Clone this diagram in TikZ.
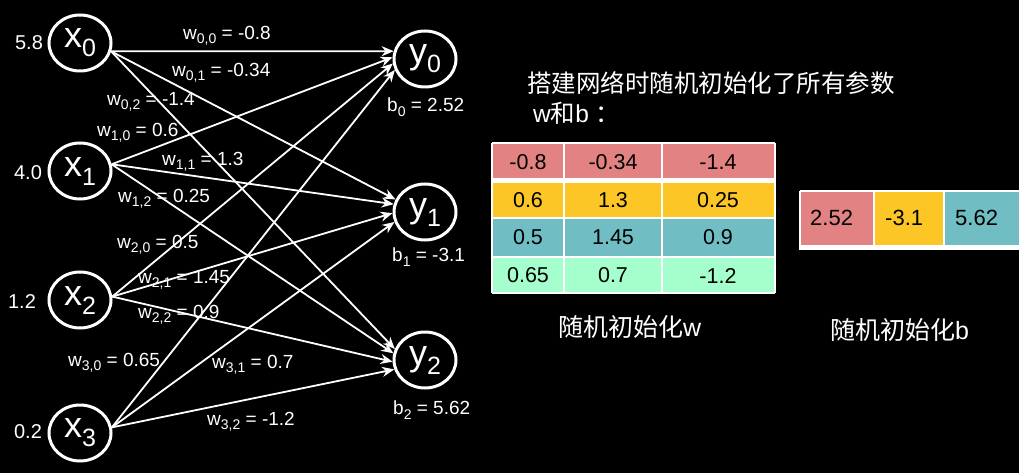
\documentclass[tikz,border=0pt]{standalone}
\usepackage{fontspec}
\setmainfont{Liberation Sans}
\newfontfamily\cjk{Noto Sans CJK SC}
\usetikzlibrary{arrows.meta,shapes.geometric}
\newcommand{\fs}[1]{\fontsize{#1}{#1}\selectfont}
\newcommand{\ntxt}[2]{#1\raisebox{-9pt}{\fs{25}#2}}
\newcommand{\wlab}[2]{w\raisebox{-4pt}{\fs{14}#1} = #2}
\newcommand{\blab}[2]{b\raisebox{-5pt}{\fs{14}#1} = #2}
\definecolor{cpink}{RGB}{226,130,130}
\definecolor{cyel}{RGB}{251,198,38}
\definecolor{cteal}{RGB}{112,190,196}
\definecolor{cmint}{RGB}{165,255,205}
\begin{document}
\begin{tikzpicture}[x=1pt,y=-1pt,
  neuron/.style={ellipse,draw=white,line width=3pt,minimum width=62pt,minimum height=56pt,inner sep=0pt,text=white,font=\fs{36}},
  inlab/.style={text=white,font=\fs{20},inner sep=0pt},
  wl/.style={text=white,font=\fs{19},inner sep=0pt,anchor=west},
  wedge/.style={draw=white,line width=1.8pt,-{Stealth[length=12pt,width=10pt]}},
  numtxt/.style={text=black,font=\fs{21.5},inner sep=0pt},
  bnumtxt/.style={text=black,font=\fs{22},inner sep=0pt,anchor=west},
  gridline/.style={draw=white,line width=1.5pt},
  captxt/.style={text=white,font=\fs{25}\cjk,inner sep=0pt,anchor=west}
]
\fill[black] (0,0) rectangle (1019,473);
\useasboundingbox (0,0) rectangle (1019,473);

% neurons
\node[neuron] (x0) at (80,43) {\ntxt{x}{0}};
\node[neuron] (x1) at (80,171) {\ntxt{x}{1}};
\node[neuron] (x2) at (80,300) {\ntxt{x}{2}};
\node[neuron] (x3) at (80,433) {\ntxt{x}{3}};
\node[neuron] (y0) at (425,59) {\ntxt{y}{0}};
\node[neuron] (y1) at (425,212) {\ntxt{y}{1}};
\node[neuron] (y2) at (425,360) {\ntxt{y}{2}};

% inputs
\node[inlab] (i0) at (29,43) {5.8};
\node[inlab] (i1) at (28,173) {4.0};
\node[inlab] (i2) at (22,302) {1.2};
\node[inlab] (i3) at (28,432) {0.2};

% edges
\draw[wedge] (x0.-15) -- (y0.166);
\draw[wedge] (x0.-15) -- (y1.157);
\draw[wedge] (x0.-15) -- (y2.160);
\draw[wedge] (x1.12) -- (y0.177);
\draw[wedge] (x1.12) -- (y1.166);
\draw[wedge] (x1.12) -- (y2.168);
\draw[wedge] (x2.6) -- (y0.188);
\draw[wedge] (x2.6) -- (y1.182);
\draw[wedge] (x2.6) -- (y2.183);
\draw[wedge] (x3.10) -- (y0.200);
\draw[wedge] (x3.10) -- (y1.198);
\draw[wedge] (x3.10) -- (y2.197);

% weight labels
\node[wl] (w00) at (183,36) {\wlab{0,0}{-0.8}};
\node[wl] (w01) at (172,73) {\wlab{0,1}{-0.34}};
\node[wl] (w02) at (107,102) {\wlab{0,2}{-1.4}};
\node[wl] (w10) at (97,133) {\wlab{1,0}{0.6}};
\node[wl] (w11) at (162,162) {\wlab{1,1}{1.3}};
\node[wl] (w12) at (118,199) {\wlab{1,2}{0.25}};
\node[wl] (w20) at (117,245) {\wlab{2,0}{0.5}};
\node[wl] (w21) at (138,280) {\wlab{2,1}{1.45}};
\node[wl] (w22) at (138,315) {\wlab{2,2}{0.9}};
\node[wl] (w30) at (68,363) {\wlab{3,0}{0.65}};
\node[wl] (w31) at (212,365) {\wlab{3,1}{0.7}};
\node[wl] (w32) at (207,422) {\wlab{3,2}{-1.2}};

% bias labels
\node[wl] (b0) at (387,107) {\blab{0}{2.52}};
\node[wl] (b1) at (392,257) {\blab{1}{-3.1}};
\node[wl] (b2) at (393,410) {\blab{2}{5.62}};

% title
\node[text=white,font=\fs{24.5}\cjk,inner sep=0pt,anchor=west] (t1) at (527,83) {搭建网络时随机初始化了所有参数};
\node[text=white,font=\fs{24.5},inner sep=0pt,anchor=west] (t2) at (533,113) {w{\cjk 和}b {\cjk ：}};

% W table
\fill[cpink] (492,143) rectangle (775,178);
\fill[cyel] (492,183) rectangle (775,218);
\fill[cteal] (492,218) rectangle (775,257);
\fill[cmint] (492,257) rectangle (775,293);
\fill[white] (491,178) rectangle (776,183);
\foreach \xx in {492,564,662,775} \draw[gridline] (\xx,143) -- (\xx,293);
\foreach \yy in {143,218,257,293} \draw[gridline] (492,\yy) -- (775,\yy);

\node[numtxt] (m00) at (528,162) {-0.8};
\node[numtxt] (m01) at (613,162) {-0.34};
\node[numtxt] (m02) at (718,162) {-1.4};
\node[numtxt] (m10) at (528,200.5) {0.6};
\node[numtxt] (m11) at (613,200.5) {1.3};
\node[numtxt] (m12) at (718,200.5) {0.25};
\node[numtxt] (m20) at (528,237.5) {0.5};
\node[numtxt] (m21) at (613,237.5) {1.45};
\node[numtxt] (m22) at (718,237.5) {0.9};
\node[numtxt] (m30) at (528,275.5) {0.65};
\node[numtxt] (m31) at (613,275.5) {0.7};
\node[numtxt] (m32) at (718,275.5) {-1.2};

% b table
\fill[cpink] (800,191) rectangle (874,245);
\fill[cyel] (874,191) rectangle (944,245);
\fill[cteal] (944,191) rectangle (1019,245);
\fill[white] (799,245) rectangle (1019,250);
\draw[gridline] (800,191) -- (1019,191);
\foreach \xx in {800,874,944} \draw[gridline] (\xx,191) -- (\xx,245);
\node[bnumtxt] (bb0) at (810,218) {2.52};
\node[bnumtxt] (bb1) at (885,218) {-3.1};
\node[bnumtxt] (bb2) at (955,218) {5.62};

% captions
\node[captxt] (c1) at (558,327) {随机初始化{\fontspec{Liberation Sans}w}};
\node[captxt] (c2) at (830,330) {随机初始化{\fontspec{Liberation Sans}b}};
\end{tikzpicture}
\end{document}
